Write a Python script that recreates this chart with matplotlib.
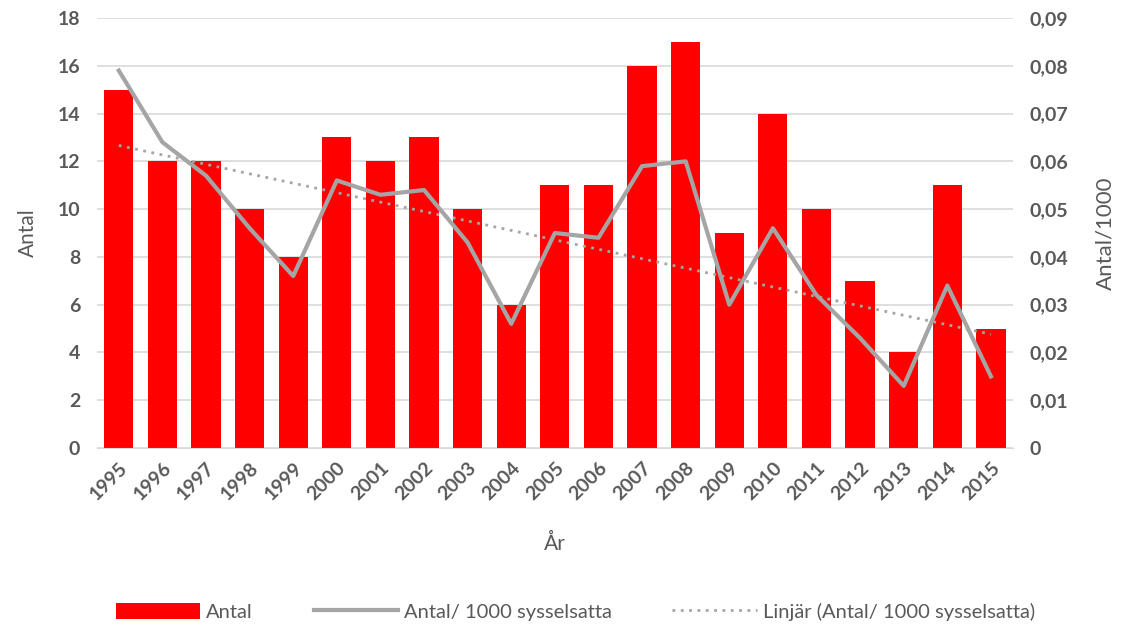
import matplotlib.pyplot as plt
import numpy as np

years = [str(y) for y in range(1995, 2016)]
antal = [15, 12, 12, 10, 8, 13, 12, 13, 10, 6, 11, 11, 16, 17, 9, 14, 10, 7, 4, 11, 5]
per_1000 = [0.079, 0.064, 0.057, 0.046, 0.036, 0.056, 0.053, 0.054, 0.043, 0.026, 0.045,
            0.044, 0.059, 0.060, 0.030, 0.046, 0.032, 0.023, 0.013, 0.034, 0.015]

red = '#FF0000'
grey = '#A5A5A5'
txt = '#595959'
plt.rcParams['font.family'] = ['Lato', 'DejaVu Sans']

fig = plt.figure(figsize=(11.24, 6.32), dpi=100)
ax = fig.add_axes([0.0863, 0.2911, 0.8147, 0.6804])
ax2 = ax.twinx()

x = np.arange(len(years))
bars = ax.bar(x, antal, width=0.67, color=red, zorder=2, label='Antal')

ax.set_xlim(-0.5, len(years) - 0.5)
ax.set_ylim(0, 18)
ax.set_yticks(range(0, 19, 2))
ax.grid(axis='y', color='#D9D9D9', linewidth=1.2, zorder=0)
ax.set_axisbelow(True)
ax.set_xticks(x)
ax.set_xticklabels(years, rotation=45, ha='right', rotation_mode='anchor',
                   fontsize=14, fontweight='bold', color=txt)
ax.tick_params(axis='y', labelsize=14, labelcolor=txt, length=0, pad=12)
for lab in ax.get_yticklabels():
    lab.set_fontweight('bold')
ax.tick_params(axis='x', length=0, pad=8)
for s in ['top', 'right', 'left']:
    ax.spines[s].set_visible(False)
ax.spines['bottom'].set_color('#D9D9D9')
ax.set_ylabel('Antal', fontsize=15, color=txt, labelpad=14)
ax.set_xlabel('År', fontsize=15, color=txt, labelpad=22)

# line on the secondary axis plus its linear trend
line, = ax2.plot(x, per_1000, color=grey, linewidth=3, zorder=3,
                 label='Antal/ 1000 sysselsatta')
k, m = np.polyfit(x, per_1000, 1)
trend, = ax2.plot(x, k * x + m, color=grey, linewidth=2, linestyle=(0, (1, 2)),
                  label='Linjär (Antal/ 1000 sysselsatta)')
ax2.set_ylim(0, 0.09)
ax2.set_yticks(np.arange(0, 0.091, 0.01))
ax2.set_yticklabels(['0'] + ['0,%02d' % i for i in range(1, 10)])
ax2.tick_params(axis='y', labelsize=14, labelcolor=txt, length=0, pad=12)
for lab in ax2.get_yticklabels():
    lab.set_fontweight('bold')
for s in ax2.spines.values():
    s.set_visible(False)
ax2.set_ylabel('Antal/1000', fontsize=16, color=txt, labelpad=20)

leg = fig.legend([bars, line, trend],
                 ['Antal', 'Antal/ 1000 sysselsatta', 'Linjär (Antal/ 1000 sysselsatta)'],
                 loc='center', bbox_to_anchor=(0.512, 0.032), ncol=3, frameon=False,
                 fontsize=14.5, handlelength=4.2, handleheight=0.9, columnspacing=3,
                 handletextpad=0.3)
for t in leg.get_texts():
    t.set_color(txt)

fig.savefig('out.png', dpi=100)
